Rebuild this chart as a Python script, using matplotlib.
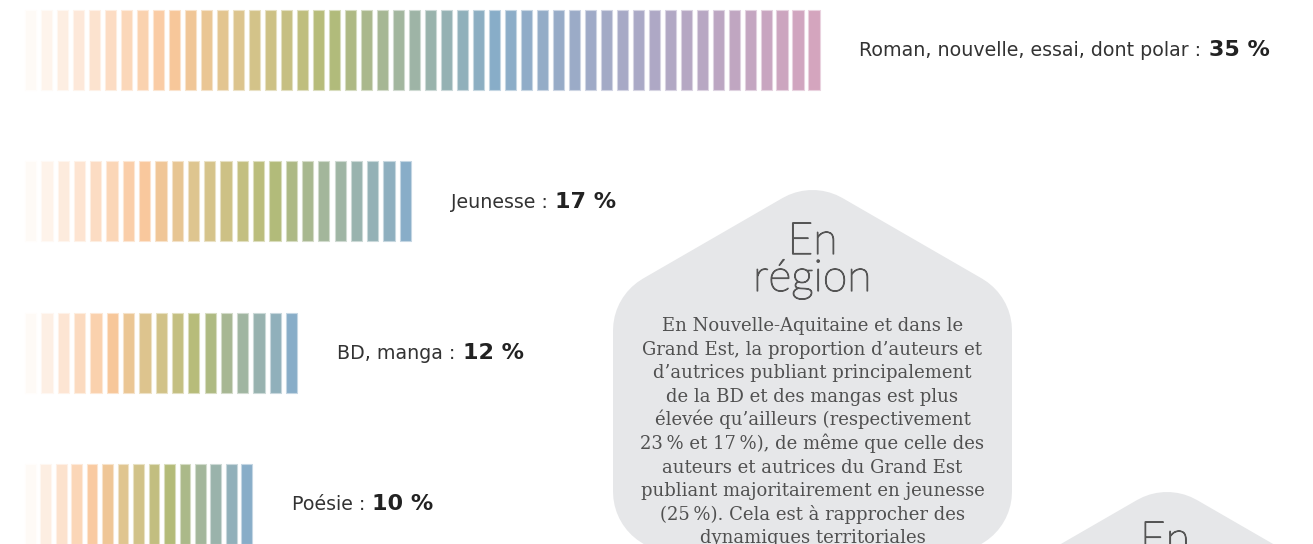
import numpy as np
import matplotlib
matplotlib.use("Agg")
import matplotlib.pyplot as plt
import matplotlib.patheffects as pe
from matplotlib.colors import LinearSegmentedColormap, to_rgb
from matplotlib.patches import Polygon

# ===== Data =====
genres = ["Roman, nouvelle, essai, dont polar", "Jeunesse", "BD, manga", "Poésie"]
shares = [35, 17, 12, 10]            # % of authors, by main genre
stripe_counts = [50, 24, 17, 15]     # number of stripes drawn in each bar

box_title = ["En", "région"]
box_lines = [
    "En Nouvelle-Aquitaine et dans le",
    "Grand Est, la proportion d’auteurs et",
    "d’autrices publiant principalement",
    "de la BD et des mangas est plus",
    "élevée qu’ailleurs (respectivement",
    "23\u2009% et 17\u2009%), de même que celle des",
    "auteurs et autrices du Grand Est",
    "publiant majoritairement en jeunesse",
    "(25\u2009%). Cela est à rapprocher des",
    "dynamiques territoriales",
]
next_box_title = "En"

# ===== Style =====
W, H = 1313, 544
PX_PER_PCT = 22.7      # bar length scale
X0 = 25                # px where 0 % sits
ROW = 151.3            # px between rows
Y0 = 50                # px of first row centre
BAR_H = 80             # px
FILL = 0.69            # stripe width / stripe pitch
BLUE_AT = 0.59         # where the palette reaches blue

palette = LinearSegmentedColormap.from_list("stripes", [
    (0.00, "#fefaf6"), (0.06, "#fde8d8"), (0.18, "#f9c79b"),
    (0.27, "#d9c48c"), (0.38, "#b3bb78"), (0.48, "#a0b5a2"),
    (0.59, "#88adc8"), (0.77, "#a9a9c6"), (0.88, "#bca6c2"),
    (1.00, "#d4a5be"),
])
HEX = "#e6e7e9"
TEXT = "#333333"
BOX_TEXT = "#505050"
TITLE = "#555555"
# thin display face, thickened a little to match the reference stroke
title_fx = [pe.withStroke(linewidth=0.9, foreground=TITLE)]

fig = plt.figure(figsize=(W / 100, H / 100), dpi=100)
fig.patch.set_facecolor("white")

# overlay in pixel coords for the info boxes (behind the bars)
ov = fig.add_axes([0, 0, 1, 1], zorder=0)
ov.set_xlim(0, W)
ov.set_ylim(H, 0)
ov.axis("off")

ax = fig.add_axes([0, 0, 1, 1], zorder=1)
ax.set_xlim(-X0 / PX_PER_PCT, (W - X0) / PX_PER_PCT)
ax.set_ylim((H - Y0) / ROW, -Y0 / ROW)
ax.axis("off")


def lighten(c, k=0.5):
    r, g, b = to_rgb(c)
    return (r + (1 - r) * k, g + (1 - g) * k, b + (1 - b) * k)


top = max(shares)
for i, (genre, v, n) in enumerate(zip(genres, shares, stripe_counts)):
    pitch = v / (n - 1 + FILL)
    lefts = np.arange(n) * pitch
    span = 1.0 if v == top else BLUE_AT
    cols = [palette(u) for u in np.linspace(0, span, n)]
    ax.barh(i, pitch * FILL, left=lefts, height=BAR_H / ROW,
            color=cols, edgecolor=[lighten(c) for c in cols], linewidth=0.8)

    t = ax.annotate(f"{genre} :", xy=(v, i), xytext=(28.8, -4.5),
                    textcoords="offset points", va="baseline", ha="left",
                    fontsize=13.7, family="DejaVu Sans", color=TEXT)
    ax.annotate(f"{v} %", xy=(1, i), xycoords=(t, "data"), xytext=(5, -4.5),
                textcoords="offset points", va="baseline", ha="left",
                fontsize=16, family="DejaVu Sans", fontweight="bold",
                color="#222222")


def rounded_hex(cx, apex, half_w, r):
    R = (half_w - r) * 2 / np.sqrt(3)
    cy = apex + r + R
    ang = np.radians([90, 150, 210, 270, 330, 30])
    pts = np.column_stack([cx + R * np.cos(ang), cy - R * np.sin(ang)])
    return Polygon(pts, closed=True, facecolor=HEX, edgecolor=HEX,
                   linewidth=2 * r * 72 / 100, joinstyle="round")


ov.add_patch(rounded_hex(812.5, 190, 199.5, 60))
ov.add_patch(rounded_hex(1167, 492, 199.5, 60))

for txt, yb in zip(box_title, [254, 291]):
    ov.text(812.5, yb, txt, ha="center", va="baseline", fontsize=32,
            family="Lato", fontweight="light", color=TITLE,
            path_effects=title_fx)
for k, line in enumerate(box_lines):
    ov.text(812.5, 331 + k * 23.6, line, ha="center", va="baseline",
            fontsize=13, family="DejaVu Serif", color=BOX_TEXT)
ov.text(1165, 553, next_box_title, ha="center", va="baseline", fontsize=32,
        family="Lato", fontweight="light", color=TITLE, path_effects=title_fx)

fig.savefig("out.png", dpi=100, facecolor="white")
